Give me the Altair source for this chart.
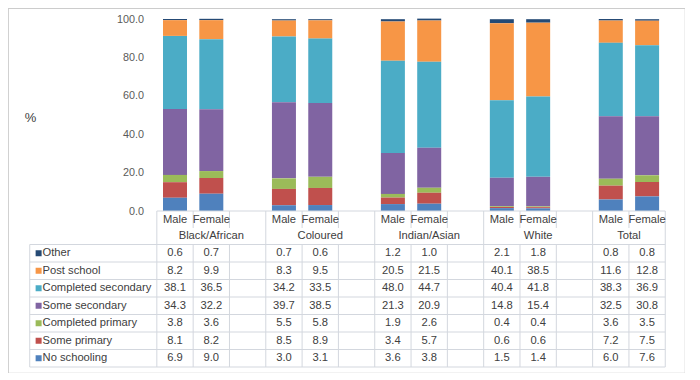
import altair as alt
import pandas as pd

# ---------------- data ----------------
categories = ["Other", "Post school", "Completed secondary", "Some secondary",
              "Completed primary", "Some primary", "No schooling"]
colors = ["#254a75", "#f79646", "#4bacc6", "#8064a2", "#9bbb59", "#c0504d", "#4f81bd"]
groups = ["Black/African", "Coloured", "Indian/Asian", "White", "Total"]
sexes = ["Male", "Female"]
y_ticks = [0, 20, 40, 60, 80, 100]

black_male = [0.6, 8.2, 38.1, 34.3, 3.8, 8.1, 6.9]
black_female = [0.7, 9.9, 36.5, 32.2, 3.6, 8.2, 9.0]
coloured_male = [0.7, 8.3, 34.2, 39.7, 5.5, 8.5, 3.0]
coloured_female = [0.6, 9.5, 33.5, 38.5, 5.8, 8.9, 3.1]
indian_male = [1.2, 20.5, 48.0, 21.3, 1.9, 3.4, 3.6]
indian_female = [1.0, 21.5, 44.7, 20.9, 2.6, 5.7, 3.8]
white_male = [2.1, 40.1, 40.4, 14.8, 0.4, 0.6, 1.5]
white_female = [1.8, 38.5, 41.8, 15.4, 0.4, 0.6, 1.4]
total_male = [0.8, 11.6, 38.3, 32.5, 3.6, 7.2, 6.0]
total_female = [0.8, 12.8, 36.9, 30.8, 3.5, 7.5, 7.6]

series = [[black_male, black_female], [coloured_male, coloured_female],
          [indian_male, indian_female], [white_male, white_female],
          [total_male, total_female]]

# ---------------- layout helpers ----------------
W, H = 677, 365          # view size (page 8..685, 8..373)
SLOT = 36.86             # pixel width of one category slot
X0, Y0, PX = 146.0, 203.0, 1.92   # chart-coords of slot 0 / value 0, px per %
FONT = "Liberation Sans"
AXIS_X = X0 - 10.5       # where the y tick labels end


def S(px):  # chart x pixel -> slot units
    return (px - X0) / SLOT


def V(py):  # chart y pixel -> value units
    return (Y0 - py) / PX


xs = alt.Scale(domain=[S(0), S(W)], nice=False, zero=False)
ys = alt.Scale(domain=[V(H), V(0)], nice=False, zero=False)
cs = alt.Scale(domain=categories, range=colors)

HDR1, HDR2, BODY_TOP, ROW_H = 212.0, 228.0, 236.5, 17.5
TABLE_LEFT = S(17)
n_rows = len(categories)
BODY_BOTTOM = BODY_TOP + ROW_H * n_rows


def slot(g, k):
    return 3 * g + k


# bars
bar_rows = []
for g, grp in enumerate(groups):
    for k, sx in enumerate(sexes):
        for i, cat in enumerate(categories):
            bar_rows.append(dict(group=grp, sex=sx, category=cat,
                                 value=series[g][k][i], order=n_rows - i,
                                 xc=slot(g, k) + 0.5))
bars_df = pd.DataFrame(bar_rows)

# table values
cell_rows = []
for g, grp in enumerate(groups):
    for k, sx in enumerate(sexes):
        for i, cat in enumerate(categories):
            cell_rows.append(dict(x=slot(g, k) + 0.5,
                                  y=V(BODY_TOP + ROW_H * (i + 0.5)),
                                  text=f"{series[g][k][i]:.1f}"))
cells_df = pd.DataFrame(cell_rows)

# header labels
hdr_rows = []
for g, grp in enumerate(groups):
    for k, sx in enumerate(sexes):
        hdr_rows.append(dict(x=slot(g, k) + 0.5, y=V(HDR1), text=sx))
    span = 3 if g < len(groups) - 1 else 2
    hdr_rows.append(dict(x=3 * g + span / 2, y=V(HDR2), text=grp))
hdr_df = pd.DataFrame(hdr_rows)

# row labels + legend squares
lab_df = pd.DataFrame([dict(x=S(30), xs=S(26), y=V(BODY_TOP + ROW_H * (i + 0.5)),
                            text=cat, category=cat) for i, cat in enumerate(categories)])

# grid lines
n_slots = 3 * (len(groups) - 1) + 2
lines = []
lines.append(dict(x=0, x2=n_slots, y=V(Y0), y2=V(Y0)))
for r in range(n_rows + 1):
    yy = V(BODY_TOP + ROW_H * r)
    lines.append(dict(x=TABLE_LEFT, x2=n_slots, y=yy, y2=yy))
lines.append(dict(x=TABLE_LEFT, x2=TABLE_LEFT, y=V(BODY_TOP), y2=V(BODY_BOTTOM)))
for s in range(n_slots + 1):
    if s % 3 == 0 or s == n_slots:
        lines.append(dict(x=s, x2=s, y=V(Y0), y2=V(BODY_BOTTOM)))
    else:
        lines.append(dict(x=s, x2=s, y=V(Y0), y2=V(HDR1 + 8)))
        lines.append(dict(x=s, x2=s, y=V(BODY_TOP), y2=V(BODY_BOTTOM)))
lines_df = pd.DataFrame(lines)

# ---------------- chart ----------------
yaxis = alt.Axis(values=y_ticks, format=".1f", domain=False, ticks=False, tickSize=0,
                 grid=False, labelPadding=0, offset=-AXIS_X,
                 labelFont=FONT, labelFontSize=10.8, labelColor="#595959",
                 title="%", titleAngle=0, titleX=22 - AXIS_X,
                 titleY=109, titleAlign="center", titleBaseline="middle",
                 titleFont=FONT, titleFontSize=13, titleFontWeight="normal",
                 titleColor="#404040")


def X(f):
    return alt.X(f, scale=xs, axis=None)


def Y(f):
    return alt.Y(f, scale=ys, axis=yaxis)


bars = alt.Chart(bars_df).transform_stack(
    stack="value", groupby=["group", "sex"], as_=["y0", "y1"],
    sort=[alt.SortField("order", order="ascending")]
).mark_bar(size=24).encode(
    x=X("xc:Q"), y=Y("y0:Q"), y2="y1:Q",
    color=alt.Color("category:N", scale=cs, legend=None))

rules = alt.Chart(lines_df).mark_rule(color="#d3d7de", strokeWidth=1).encode(
    x=X("x:Q"), x2="x2:Q", y=Y("y:Q"), y2="y2:Q")

txt = dict(font=FONT, fontSize=11.2, color="#404040", baseline="middle")

cells = alt.Chart(cells_df).mark_text(align="center", **txt).encode(
    x=X("x:Q"), y=Y("y:Q"), text="text:N")
hdr = alt.Chart(hdr_df).mark_text(align="center", **txt).encode(
    x=X("x:Q"), y=Y("y:Q"), text="text:N")
labs = alt.Chart(lab_df).mark_text(align="left", **txt).encode(
    x=X("x:Q"), y=Y("y:Q"), text="text:N")
squares = alt.Chart(lab_df).mark_square(size=36, opacity=1).encode(
    x=X("xs:Q"), y=Y("y:Q"),
    color=alt.Color("category:N", scale=cs, legend=None))

chart = alt.layer(bars, rules, cells, hdr, labs, squares).properties(
    width=W, height=H, padding=0, autosize=alt.AutoSizeParams(type="none")
).configure_view(stroke="#cccccc", strokeWidth=1.2)

chart.save("out.html", embed_options={"renderer": "svg", "actions": False})
